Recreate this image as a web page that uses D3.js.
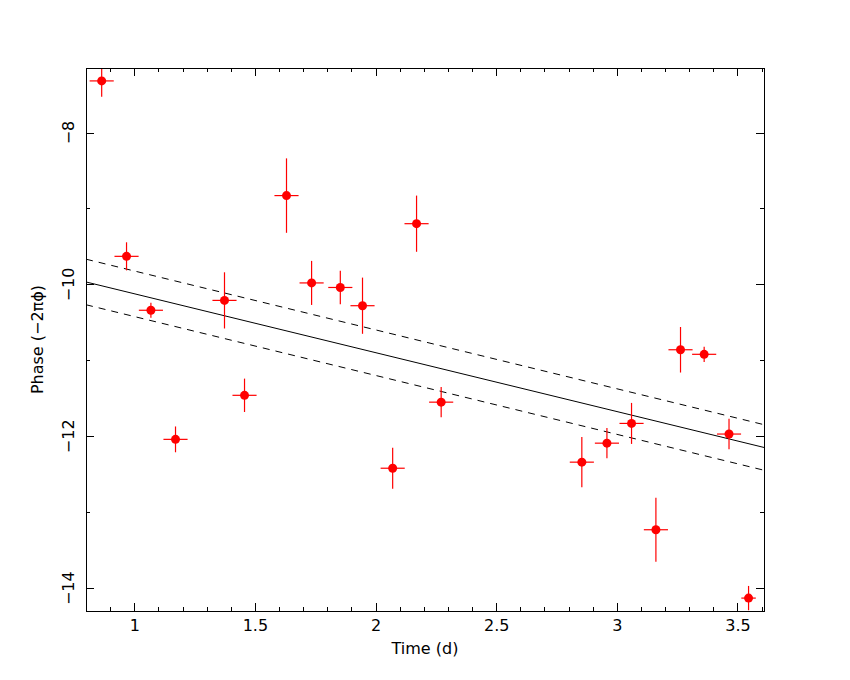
<!DOCTYPE html>
<html lang="en">
    <head>
        <meta charset="utf-8">
        <title>Phase vs time</title>
        <script type="text/javascript" src="https://cdnjs.cloudflare.com/ajax/libs/d3/7.8.5/d3.min.js"></script>
        <style type="text/css">
            body { margin: 0; background: #fff; }
            text { font-family: "DejaVu Sans", sans-serif; font-size: 16px; fill: #000; }
        </style>
    </head>
    <body>
        <script type="text/javascript">
            var w = 850;
            var h = 680;

            // data
            var times    = [0.865, 0.968, 1.069, 1.171, 1.374, 1.457, 1.631, 1.735, 1.854, 1.946, 2.071,
                            2.170, 2.272, 2.855, 2.959, 3.061, 3.162, 3.264, 3.362, 3.465, 3.546];
            var phases   = [-7.32, -9.63, -10.34, -12.04, -10.21, -11.46, -8.83, -9.98, -10.04, -10.28, -12.42,
                            -9.20, -11.55, -12.34, -12.09, -11.83, -13.23, -10.86, -10.92, -11.97, -14.13];
            var phaseErr = [0.21, 0.185, 0.10, 0.17, 0.37, 0.22, 0.49, 0.29, 0.22, 0.37, 0.27,
                            0.37, 0.20, 0.33, 0.20, 0.27, 0.42, 0.30, 0.10, 0.20, 0.16];
            var timeErr  = [0.05, 0.05, 0.05, 0.05, 0.05, 0.05, 0.05, 0.05, 0.05, 0.05, 0.05,
                            0.05, 0.05, 0.05, 0.05, 0.05, 0.05, 0.05, 0.05, 0.05, 0.03];

            var xTicks = [1, 1.5, 2, 2.5, 3, 3.5];
            var yTicks = [-8, -10, -12, -14];

            // linear fit and its band
            var fitIntercept = -9.347;
            var fitSlope = -0.7755;
            var fitBand = 0.3;

            var pLeft = 86, pRight = 764, pTop = 68, pBottom = 611;

            var x = d3.scaleLinear().domain([0.8, 3.61]).range([pLeft, pRight]);
            var y = d3.scaleLinear().domain([-14.3, -7.15]).range([pBottom, pTop]);

            var svg = d3.select("body")
                        .append("svg")
                        .attr("width", w)
                        .attr("height", h);

            svg.append("clipPath").attr("id", "plot")
               .append("rect")
               .attr("x", pLeft).attr("y", pTop)
               .attr("width", pRight - pLeft).attr("height", pBottom - pTop);

            // axes, ticks pointing inward on all four sides
            function styleAxis(g) {
                g.selectAll("path, line").attr("stroke", "#000").attr("shape-rendering", "crispEdges");
                g.selectAll("text").attr("font-family", null).attr("font-size", null);
            }
            var xMinor = d3.range(8, 37).map(function(d) { return d / 10; });
            var yMinor = [-9, -11, -13];

            svg.append("g").attr("transform", "translate(0," + pBottom + ")")
               .call(d3.axisBottom(x).tickValues(xMinor).tickSize(-4).tickSizeOuter(0).tickFormat(""))
               .call(styleAxis);
            svg.append("g").attr("transform", "translate(0," + pBottom + ")")
               .call(d3.axisBottom(x).tickValues(xTicks).tickSize(-8).tickSizeOuter(0).tickPadding(9)
                     .tickFormat(d3.format("")))
               .call(styleAxis);
            svg.append("g").attr("transform", "translate(0," + pTop + ")")
               .call(d3.axisTop(x).tickValues(xMinor).tickSize(-4).tickSizeOuter(0).tickFormat(""))
               .call(styleAxis);
            svg.append("g").attr("transform", "translate(0," + pTop + ")")
               .call(d3.axisTop(x).tickValues(xTicks).tickSize(-8).tickSizeOuter(0).tickFormat(""))
               .call(styleAxis);
            svg.append("g").attr("transform", "translate(" + pLeft + ",0)")
               .call(d3.axisLeft(y).tickValues(yMinor).tickSize(-4).tickSizeOuter(0).tickFormat(""))
               .call(styleAxis);
            svg.append("g").attr("transform", "translate(" + pLeft + ",0)")
               .call(d3.axisLeft(y).tickValues(yTicks).tickSize(-8).tickSizeOuter(0).tickFormat(""))
               .call(styleAxis);
            svg.append("g").attr("transform", "translate(" + pRight + ",0)")
               .call(d3.axisRight(y).tickValues(yMinor).tickSize(-4).tickSizeOuter(0).tickFormat(""))
               .call(styleAxis);
            svg.append("g").attr("transform", "translate(" + pRight + ",0)")
               .call(d3.axisRight(y).tickValues(yTicks).tickSize(-8).tickSizeOuter(0).tickFormat(""))
               .call(styleAxis);

            // rotated y tick labels
            svg.selectAll("text.ylab")
               .data(yTicks)
               .enter()
               .append("text")
               .attr("class", "ylab")
               .attr("text-anchor", "middle")
               .attr("transform", function(d) { return "translate(74," + y(d) + ") rotate(-90)"; })
               .text(d3.format(""));

            // fit line and band
            var xd = x.domain();
            var fits = [
                { off: 0, dash: null },
                { off: fitBand, dash: "7,6" },
                { off: -fitBand, dash: "7,6" }
            ];
            var plot = svg.append("g").attr("clip-path", "url(#plot)");
            plot.selectAll("line.fit")
               .data(fits)
               .enter()
               .append("line")
               .attr("class", "fit")
               .attr("x1", x(xd[0]))
               .attr("x2", x(xd[1]))
               .attr("y1", function(d) { return y(fitIntercept + fitSlope * xd[0] + d.off); })
               .attr("y2", function(d) { return y(fitIntercept + fitSlope * xd[1] + d.off); })
               .attr("stroke", "#000")
               .attr("stroke-width", 1)
               .attr("stroke-dasharray", function(d) { return d.dash; });

            // points with error bars
            var pts = times.map(function(t, i) {
                return { t: t, p: phases[i], ep: phaseErr[i], et: timeErr[i] };
            });
            var pg = plot.selectAll("g.pt")
               .data(pts)
               .enter()
               .append("g")
               .attr("class", "pt");
            pg.append("line")
              .attr("x1", function(d) { return x(d.t); })
              .attr("x2", function(d) { return x(d.t); })
              .attr("y1", function(d) { return y(d.p - d.ep); })
              .attr("y2", function(d) { return y(d.p + d.ep); })
              .attr("stroke", "#f00").attr("stroke-width", 1.2);
            pg.append("line")
              .attr("x1", function(d) { return x(d.t - d.et); })
              .attr("x2", function(d) { return x(d.t + d.et); })
              .attr("y1", function(d) { return y(d.p); })
              .attr("y2", function(d) { return y(d.p); })
              .attr("stroke", "#f00").attr("stroke-width", 1.2);
            pg.append("circle")
              .attr("cx", function(d) { return x(d.t); })
              .attr("cy", function(d) { return y(d.p); })
              .attr("r", 4.5)
              .attr("fill", "#f00");

            // frame
            svg.append("rect")
               .attr("x", pLeft).attr("y", pTop)
               .attr("width", pRight - pLeft).attr("height", pBottom - pTop)
               .attr("fill", "none").attr("stroke", "#000")
               .attr("shape-rendering", "crispEdges");

            // axis titles
            svg.append("text")
               .attr("x", (pLeft + pRight) / 2)
               .attr("y", 654)
               .attr("text-anchor", "middle")
               .text("Time (d)");
            svg.append("text")
               .attr("text-anchor", "middle")
               .attr("transform", "translate(43," + (pTop + pBottom) / 2 + ") rotate(-90)")
               .text("Phase (\u22122\u03c0\u03d5)");
        </script>
    </body>
</html>
